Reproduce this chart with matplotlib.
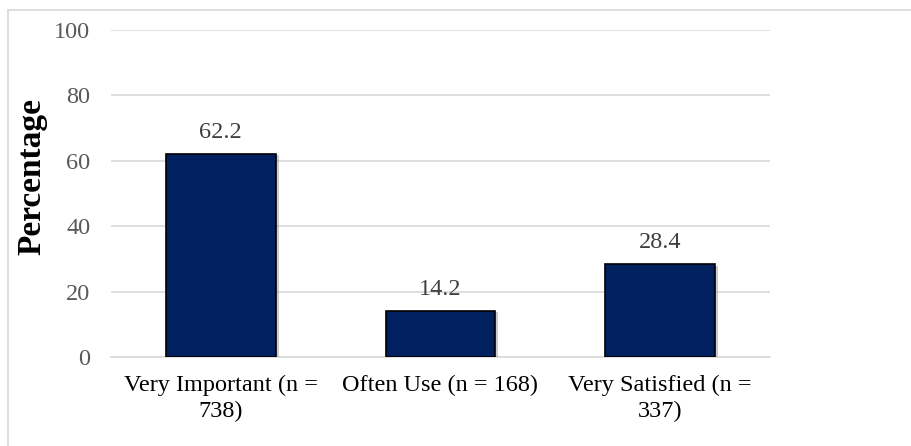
import matplotlib
matplotlib.use("Agg")
import matplotlib.pyplot as plt
import matplotlib.patheffects as pe
from matplotlib.lines import Line2D

categories = ["Very Important (n =\n738)", "Often Use (n = 168)", "Very Satisfied (n =\n337)"]
values = [62.2, 14.2, 28.4]
yticks = [0, 20, 40, 60, 80, 100]

plt.rcParams['font.family'] = ['Liberation Serif', 'DejaVu Serif']

fig = plt.figure(figsize=(9.12, 4.46), dpi=100)
ax = fig.add_axes([111 / 912, 1 - 357 / 446, (770 - 111) / 912, (357 - 30) / 446])

x = range(len(categories))
bars = ax.bar(x, values, width=0.5, color="#002060", edgecolor="black", linewidth=1.2, zorder=3)
for b in bars:
    b.set_path_effects([pe.SimplePatchShadow(offset=(2, -1), shadow_rgbFace="#808080", alpha=0.4),
                        pe.Normal()])
for xi, v in zip(x, values):
    ax.text(xi, v + 4.9, "%.1f" % v, ha="center", va="baseline", fontsize=17.5, color="#404040")

ax.set_xlim(-0.5, len(categories) - 0.5)
ax.set_ylim(0, 100)
ax.set_yticks(yticks)
ax.set_yticklabels([str(t) for t in yticks], fontsize=17.5, color="#595959")
ax.set_xticks(list(x))
ax.set_xticklabels(categories, fontsize=17.5, color="black", linespacing=1.3)
ax.tick_params(axis="both", length=0)
ax.tick_params(axis="y", pad=15)
ax.tick_params(axis="x", pad=13)
ax.grid(axis="y", color="#d9d9d9", linewidth=1.2, zorder=0)
for s in ["top", "right", "left"]:
    ax.spines[s].set_visible(False)
ax.spines["bottom"].set_color("#d9d9d9")
ax.spines["bottom"].set_linewidth(1.2)

fig.text(32 / 912, 1 - 177 / 446, "Percentage", rotation=90, ha="center", va="center",
         fontsize=24, fontweight="bold")

# outer chart border (cut off at right and bottom)
fig.add_artist(Line2D([8 / 912, 8 / 912], [0, 1 - 10 / 446], transform=fig.transFigure,
                      color="#d9d9d9", linewidth=1.2))
fig.add_artist(Line2D([8 / 912, 1], [1 - 10 / 446, 1 - 10 / 446], transform=fig.transFigure,
                      color="#d9d9d9", linewidth=1.2))

fig.savefig("out.png", dpi=100)
